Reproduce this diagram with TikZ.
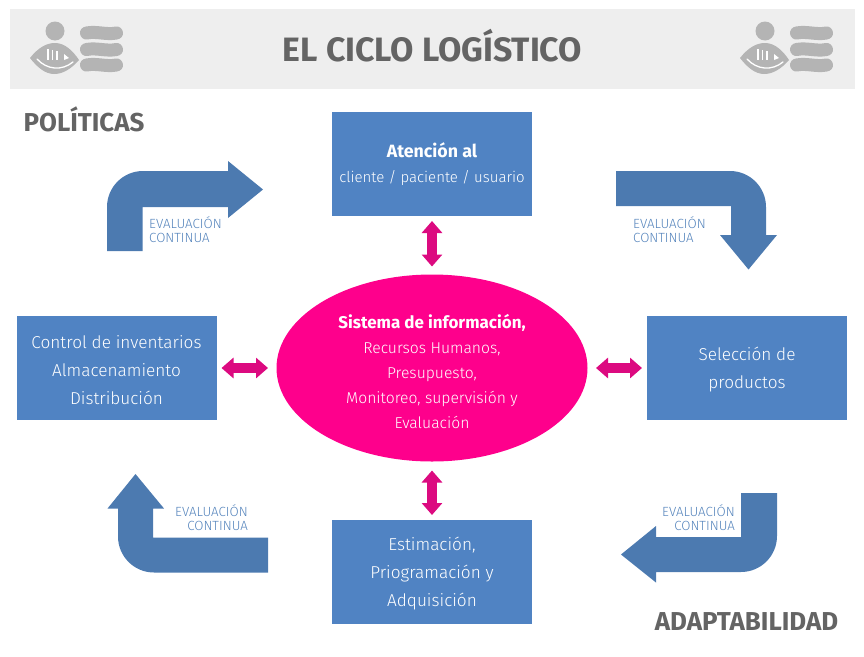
\documentclass[tikz,border=0pt]{standalone}
\usepackage{fontspec}
\setmainfont{Fira Sans}[UprightFont=* Light,BoldFont=* Bold]
\usetikzlibrary{arrows.meta,shapes.geometric}
\definecolor{bandgray}{HTML}{EEEEEE}
\definecolor{titlegray}{HTML}{646464}
\definecolor{logogray}{HTML}{B4B4B4}
\definecolor{boxblue}{HTML}{5083C3}
\definecolor{bentblue}{HTML}{4C7AB0}
\definecolor{notblue}{HTML}{5584BC}
\definecolor{hotpink}{HTML}{FE008C}
\definecolor{linkpink}{HTML}{DC0A80}
\newcommand\lifted{\rule{0pt}{17pt}}
\tikzset{
  bluebox/.style={rectangle,fill=boxblue,text=white,minimum width=200pt,minimum height=104pt,
    inner sep=0pt,outer sep=0pt,align=center,font=\fontsize{17.2}{28}\selectfont},
  infobubble/.style={ellipse,fill=hotpink,text=white,minimum width=311pt,minimum height=187pt,
    inner sep=0pt,outer sep=0pt,align=center,font=\fontsize{15.7}{25}\selectfont},
  duplex/.style={draw=linkpink,line width=10.5pt,{Triangle[length=12pt,width=20pt]}-{Triangle[length=12pt,width=20pt]}},
  bentarrow/.style={fill=bentblue},
  evalnote/.style={text=notblue,inner sep=0pt,font=\fontsize{13.3}{14}\selectfont},
  headline/.style={text=titlegray,inner sep=0pt,font=\bfseries\fontsize{25.9}{26}\selectfont},
  pics/logomark/.style={code={
    \fill[logogray] (55,31) circle (9.5);
    \fill[logogray] (30,58) .. controls (38,48) and (46,43) .. (55,43) .. controls (65,43) and (73,51) .. (79,60)
      .. controls (71,69) and (63,74) .. (54,74) .. controls (45,74) and (37,67) .. (30,58) -- cycle;
    \draw[white,line width=1.3pt,line cap=round] (37,59) .. controls (47,70) and (62,71) .. (73,62);
    \draw[white,line width=1.2pt] (48,49) -- (48,60) (52.5,50) -- (52.5,60) (57,51) -- (57,60);
    \fill[white] (64,54) -- (69,58) -- (64,60) -- cycle;
    \foreach \ymid in {33,49.5,65} {
      \draw[logogray,line width=13pt,line cap=round] (86.5,\ymid) .. controls (97,\ymid-2) and (106,\ymid+2) .. (116.5,\ymid);
    }
  }}
}
\begin{document}
\begin{tikzpicture}[x=1pt,y=-1pt]
\useasboundingbox (0,0) rectangle (864,656);
% title band
\fill[bandgray] (9.5,9) rectangle (854.5,89);
\pic at (0,0) {logomark};
\pic at (710,0) {logomark};
\node[headline,font=\bfseries\fontsize{33.8}{34}\selectfont] (title) at (432.5,46) {EL CICLO LOGÍSTICO};
\node[headline] (politicas) at (84,119) {POLÍTICAS};
\node[headline] (adaptabilidad) at (746.5,622) {ADAPTABILIDAD};
% boxes of the cycle
\node[bluebox,font=\fontsize{15}{25}\selectfont] (atencion) at (432,164) {{\fontsize{17.8}{25}\selectfont\textbf{Atención al}}\\cliente / paciente / usuario};
\node[bluebox] (seleccion) at (747,368) {\lifted Selección de\\productos};
\node[bluebox] (estimacion) at (432,572) {\lifted Estimación,\\Priogramación y\\Adquisición};
\node[bluebox] (control) at (116.5,368) {\lifted Control de inventarios\\Almacenamiento\\Distribución};
\node[infobubble] (sistema) at (432,368) {\rule{0pt}{22pt}{\fontsize{17}{25}\selectfont\textbf{Sistema de información,}}\\Recursos Humanos,\\Presupuesto,\\Monitoreo, supervisión y\\Evaluación};
% links to the centre
\draw[duplex,shorten <=5pt,shorten >=8pt] (atencion) -- (sistema);
\draw[duplex,shorten <=5pt,shorten >=8.5pt] (seleccion) -- (sistema);
\draw[duplex,shorten <=5pt,shorten >=9pt] (estimacion) -- (sistema);
\draw[duplex,shorten <=5pt,shorten >=8.5pt] (control) -- (sistema);
% bent arrows
\fill[bentarrow] (107,251) -- (107,207) arc[start angle=180,end angle=270,radius=36] -- (228,171) -- (228,161) -- (263,189.5)
  -- (228,218) -- (228,207) -- (142.5,207) -- (142.5,251) -- cycle;
\fill[bentarrow] (616,171) -- (730,171) arc[start angle=270,end angle=360,radius=36] -- (766,235) -- (777,235) -- (748.5,269.5)
  -- (720,235) -- (731,235) -- (731,206) -- (616,206) -- cycle;
\fill[bentarrow] (777,493) -- (777,536) arc[start angle=0,end angle=90,radius=36] -- (656,572) -- (656,582.5) -- (621,554.5)
  -- (656,526) -- (656,537) -- (741,537) -- (741,493) -- cycle;
\fill[bentarrow] (268,572.5) -- (154,572.5) arc[start angle=90,end angle=180,radius=36] -- (118,508.5) -- (107.5,508.5) -- (135.5,474)
  -- (164,508.5) -- (153,508.5) -- (153,537.5) -- (268,537.5) -- cycle;
% notes beside the arrows
\node[evalnote,align=left,anchor=west] (evalnw) at (149,230) {EVALUACIÓN\\CONTINUA};
\node[evalnote,align=left,anchor=west] (evalne) at (633,230) {EVALUACIÓN\\CONTINUA};
\node[evalnote,align=right,anchor=east] (evalse) at (735,518) {EVALUACIÓN\\CONTINUA};
\node[evalnote,align=right,anchor=east] (evalsw) at (248,518) {EVALUACIÓN\\CONTINUA};
\end{tikzpicture}
\end{document}
